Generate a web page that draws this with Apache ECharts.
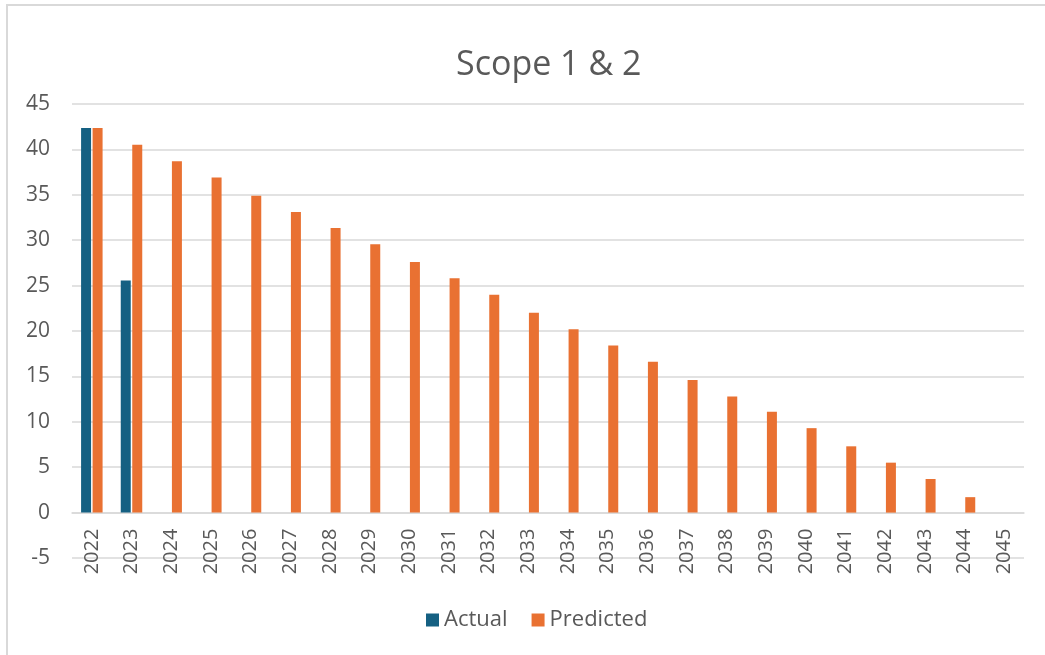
<!DOCTYPE html>
<html>
<head>
<meta charset="utf-8">
<script src="https://cdn.jsdelivr.net/npm/echarts@6/dist/echarts.min.js"></script>
<style>
  html, body { margin: 0; padding: 0; overflow: hidden; background: #fff; }
  #chart { position: absolute; left: 0; top: 0; width: 1045px; height: 655px; }
  .frame { position: absolute; left: 6px; top: 4px; width: 1100px; height: 700px; border: 2px solid #d9d9d9; pointer-events: none; }
</style>
</head>
<body>
<div id="chart"></div>
<div class="frame"></div>
<script>
// categories (years)
var years = ['2022', '2023', '2024', '2025', '2026', '2027', '2028', '2029', '2030', '2031', '2032', '2033',
             '2034', '2035', '2036', '2037', '2038', '2039', '2040', '2041', '2042', '2043', '2044', '2045'];
// actual emissions
var actual = [42.35, 25.55, null, null, null, null, null, null, null, null, null, null,
              null, null, null, null, null, null, null, null, null, null, null, null];
// predicted emissions
var predicted = [42.35, 40.5, 38.7, 36.9, 34.9, 33.1, 31.35, 29.55, 27.6, 25.8, 24.0, 22.0,
                 20.2, 18.4, 16.6, 14.6, 12.8, 11.1, 9.3, 7.3, 5.5, 3.7, 1.7, 0];

var chart = echarts.init(document.getElementById('chart'));
var txt = '#595959';
var gridTop = 104, gridBottom = 97;
// x axis sits on the zero line: shift it up by 5 units of the y scale
var yMin = -5, yMax = 45;
var plotH = 655 - gridTop - gridBottom;
var zeroShift = plotH * (0 - yMin) / (yMax - yMin);

var option = {
  animation: false,
  textStyle: { fontFamily: 'Open Sans' },
  title: {
    text: 'Scope 1 & 2',
    left: 451,
    top: 43,
    textStyle: { color: txt, fontSize: 34, fontWeight: 'normal', fontFamily: 'Open Sans' }
  },
  legend: {
    top: 604,
    left: 421,
    itemWidth: 13,
    itemHeight: 13,
    itemGap: 24,
    icon: 'rect',
    data: ['Actual', 'Predicted'],
    textStyle: { color: txt, fontSize: 22 }
  },
  grid: { left: 72, right: 21, top: gridTop, bottom: gridBottom },
  xAxis: {
    type: 'category',
    data: years,
    offset: -zeroShift,
    axisLine: { onZero: false, lineStyle: { color: '#d9d9d9', width: 1.5 } },
    axisTick: { show: false },
    axisLabel: { rotate: 90, color: txt, fontSize: 20, margin: 16 }
  },
  yAxis: {
    type: 'value',
    min: yMin,
    max: yMax,
    interval: 5,
    axisLine: { show: false },
    axisTick: { show: false },
    axisLabel: { color: txt, fontSize: 21, margin: 22 },
    splitLine: { lineStyle: { color: '#d9d9d9', width: 1.5 } }
  },
  series: [
    {
      name: 'Actual',
      type: 'bar',
      barWidth: 10,
      barGap: '15%',
      data: actual,
      itemStyle: { color: '#156082' }
    },
    {
      name: 'Predicted',
      type: 'bar',
      barWidth: 10,
      data: predicted,
      itemStyle: { color: '#E97132' }
    }
  ]
};
chart.setOption(option);
</script>
</body>
</html>
